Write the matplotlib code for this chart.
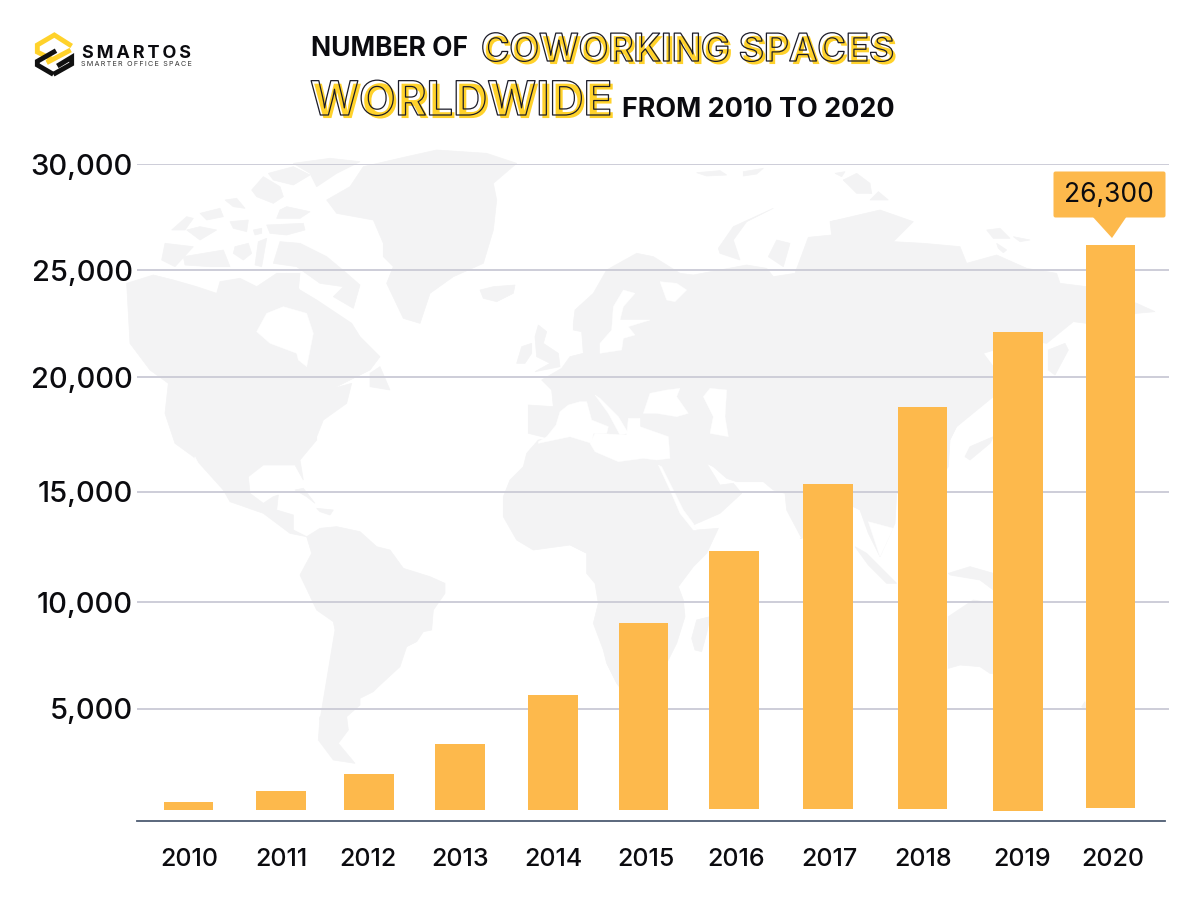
import matplotlib
matplotlib.use('Agg')
import matplotlib.pyplot as plt
import matplotlib.patheffects as pe
from matplotlib.patches import Polygon, FancyBboxPatch

plt.rcParams['font.family'] = ['Inter', 'DejaVu Sans']

# data
years = ['2010', '2011', '2012', '2013', '2014', '2015', '2016', '2017', '2018', '2019', '2020']
spaces = [846, 1362, 2126, 3511, 5738, 9043, 12335, 15384, 18905, 22333, 26300]
y_labels = ['5,000', '10,000', '15,000', '20,000', '25,000', '30,000']

# the bars float a little over the axis, gridlines and columns are not evenly spaced
bar_start = [480, 480, 480, 480, 480, 480, 520, 520, 520, 450, 590]
grid_y = [5109, 9985, 15025, 20253, 25156, 30000]
bar_x = [188.5, 281, 369, 460, 553, 643.5, 734, 828, 922.5, 1018, 1110.5]
year_x = [189, 281, 368, 460, 553, 646, 736, 829, 923, 1022, 1113]

YELLOW = '#ffd22b'
BAR = '#fdb94c'
LAND = '#f3f3f4'
INK = '#0b0b0f'


def zc(ox, oy, pts):
    # zoomed crop coordinates (3x) back to picture pixels
    return [(ox + p[0] / 3, oy + p[1] / 3) for p in pts]


C4 = (130, 150)
C5 = (480, 150)
C6 = (780, 180)
C7 = (130, 440)
C8 = (480, 430)
C9 = (780, 450)
C3 = (0, 700)

land = [
    # north america
    zc(*C4, [(-10, 400), (70, 375), (130, 390), (200, 410), (260, 430), (270, 395), (330, 385), (380, 410), (440, 370),
             (470, 370), (510, 420), (560, 450), (620, 490), (665, 520), (690, 560), (750, 620), (720, 660), (660, 690),
             (610, 715), (665, 700), (650, 760), (580, 810), (560, 860)])
    + zc(*C7, [(560, 0), (510, 60), (520, 120), (495, 75), (400, 75), (355, 110), (360, 160), (400, 190), (430, 170),
               (445, 165), (440, 210), (490, 225), (490, 270), (530, 290), (480, 280), (400, 220), (300, 185), (280, 150),
               (190, 50), (135, 10)])
    + zc(*C4, [(135, 880), (105, 790), (115, 700), (60, 660), (0, 580)]),
    zc(*C4, [(720, 670), (750, 650), (780, 720), (720, 710)]),
    # arctic islands
    zc(*C4, [(125, 240), (170, 200), (190, 205), (165, 240)]),
    zc(*C4, [(170, 240), (210, 230), (260, 240), (210, 270)]),
    zc(*C4, [(210, 190), (270, 175), (280, 200), (230, 210)]),
    zc(*C4, [(300, 215), (355, 210), (350, 245), (310, 235)]),
    zc(*C4, [(370, 240), (395, 235), (395, 250), (375, 255)]),
    zc(*C4, [(285, 150), (320, 145), (345, 175), (310, 170)]),
    zc(*C4, [(365, 120), (400, 80), (450, 110), (460, 140), (430, 160), (380, 140)]),
    zc(*C4, [(415, 70), (490, 50), (540, 75), (490, 105), (430, 90)]),
    zc(*C4, [(490, 40), (600, 25), (690, 35), (620, 70), (560, 110), (540, 70)]),
    zc(*C4, [(450, 180), (470, 170), (540, 185), (510, 205), (440, 205)]),
    zc(*C4, [(410, 225), (520, 220), (525, 240), (470, 255), (420, 250)]),
    zc(*C4, [(105, 280), (190, 290), (135, 350), (95, 330)]),
    zc(*C4, [(160, 320), (220, 310), (280, 300), (300, 350), (240, 350), (165, 345)]),
    zc(*C4, [(315, 290), (355, 280), (365, 310), (340, 330), (310, 310)]),
    zc(*C4, [(385, 275), (410, 265), (395, 350), (375, 345)]),
    zc(*C4, [(430, 340), (450, 275), (510, 280), (590, 320), (650, 370), (690, 405), (670, 475), (610, 440), (640, 410),
             (570, 400), (500, 350)]),
    zc(*C4, [(470, 370), (510, 370), (505, 420), (470, 410)]),
    # greenland, iceland
    zc(*C4, [(590, 150), (660, 110), (700, 50), (830, 20), (920, 0), (1070, 10), (1160, 40), (1090, 100), (1100, 150),
             (1090, 240), (1060, 340), (970, 380), (900, 430), (870, 520), (820, 505), (770, 400), (790, 350), (760, 320),
             (760, 280), (730, 210), (620, 190)]),
    zc(*C5, [(0, 420), (40, 410), (105, 405), (100, 430), (50, 455), (10, 445)]),
    # south america
    zc(*C7, [(530, 290), (570, 265), (620, 260), (690, 275), (740, 320), (780, 330), (820, 385), (900, 410), (945, 430),
             (945, 460), (910, 510), (905, 570), (880, 575), (860, 605), (830, 620), (810, 680), (745, 740), (730, 755),
             (690, 775), (690, 795), (650, 830)])
    + zc(*C3, [(1045, 90), (1015, 130), (1065, 190), (1000, 180), (955, 120), (960, 50)])
    + zc(*C7, [(570, 840), (615, 570), (610, 545), (560, 510), (510, 405), (545, 340)]),
    zc(*C7, [(495, 150), (520, 145), (555, 190), (530, 170)]),
    zc(*C7, [(560, 205), (610, 210), (600, 225), (570, 215)]),
    # eurasia
    zc(*C5, [(280, 520), (285, 480), (340, 430), (380, 360), (470, 310), (520, 320), (600, 370), (640, 375), (720, 360),
             (800, 345), (860, 355), (880, 380), (945, 370), (985, 262), (1055, 255), (1050, 215), (1200, 190)])
    + zc(*C6, [(150, 125), (300, 90), (400, 125), (340, 185), (430, 190), (540, 200), (560, 250), (650, 225), (740, 265),
               (830, 280), (840, 310), (920, 320), (1070, 370), (1125, 395), (1070, 400), (920, 430), (880, 425),
               (800, 490), (740, 480), (610, 520), (640, 560), (640, 650), (530, 740), (510, 780)])
    + zc(*C9, [(505, 50), (450, 130), (350, 130), (345, 220), (300, 320), (265, 250), (240, 180), (220, 170), (100, 260),
               (60, 265)])
    + zc(*C8, [(965, 325), (920, 240), (915, 190), (880, 180), (850, 155), (770, 155), (740, 145), (700, 110), (680, 100),
               (720, 165), (760, 160), (785, 190), (720, 250), (640, 285), (600, 230), (570, 180), (535, 105)])
    + zc(*C5, [(145, 850), (145, 765), (220, 770), (215, 720), (185, 690), (245, 655), (270, 620), (310, 610), (305, 545),
               (280, 540)]),
    zc(*C5, [(715, 295), (760, 230), (880, 175), (800, 215), (760, 270), (780, 330), (720, 310)]),
    zc(*C5, [(865, 320), (890, 270), (930, 280), (910, 350)]),
    zc(*C5, [(165, 560), (175, 525), (200, 545), (190, 580), (235, 610), (240, 650), (165, 665), (210, 640), (170, 620)]),
    zc(*C5, [(110, 640), (125, 590), (155, 580), (155, 610), (135, 640)]),
    zc(*C5, [(650, 68), (720, 62), (740, 75), (680, 78)]),
    zc(*C5, [(790, 65), (850, 55), (830, 72), (790, 78)]),
    zc(*C5, [(1090, 90), (1130, 70), (1170, 100), (1175, 130), (1130, 120)]),
    zc(*C5, [(1065, 70), (1095, 65), (1085, 80)]),
    zc(*C6, [(620, 150), (660, 145), (690, 175), (640, 175)]),
    zc(*C6, [(700, 170), (750, 180), (720, 185)]),
    zc(*C6, [(650, 190), (680, 210), (670, 218), (655, 205)]),
    zc(*C6, [(190, 0), (240, 0), (275, 40), (230, 40)]),
    zc(*C6, [(270, 60), (295, 35), (325, 60)]),
    zc(*C6, [(555, 830), (570, 800), (640, 770), (630, 790), (570, 840)]),
    zc(*C6, [(805, 510), (855, 490), (865, 510), (825, 585), (805, 570)]),
    # africa
    zc(*C8, [(175, 30), (140, 70), (130, 110), (90, 150), (70, 200), (70, 260), (110, 330), (160, 360), (270, 345),
             (320, 370), (320, 430), (345, 460), (355, 520), (340, 580), (370, 660), (380, 700), (410, 760), (440, 800),
             (520, 780), (590, 640), (615, 560), (610, 510), (595, 470), (640, 410), (680, 370), (715, 295), (650, 300),
             (630, 280), (580, 190), (535, 105), (490, 90), (420, 75), (340, 40), (250, 20)]),
    zc(*C8, [(650, 570), (690, 560), (680, 610), (665, 665), (645, 660), (635, 625)]),
    # asia pacific
    zc(*C9, [(225, 290), (260, 310), (330, 380), (350, 400), (320, 400), (265, 345)]),
    zc(*C9, [(505, 370), (570, 350), (640, 370), (640, 420), (600, 390), (510, 375)]),
    zc(*C9, [(505, 500), (580, 450), (700, 470), (780, 600), (700, 680), (630, 670), (600, 650), (540, 645), (505, 655)]),
    zc(*C9, [(905, 770), (915, 755), (918, 780)]),
]

water = [
    zc(*C4, [(380, 545), (410, 490), (460, 470), (530, 490), (550, 550), (540, 600), (530, 650), (505, 630), (500, 610),
             (420, 580)]),
    zc(*C5, [(360, 580), (395, 540), (400, 470), (430, 420), (465, 430), (430, 470), (420, 510), (510, 510), (445, 530),
             (465, 555), (430, 565), (425, 600), (360, 610)]),
    zc(*C5, [(540, 395), (590, 400), (620, 420), (585, 455), (560, 450)]),
    zc(*C5, [(490, 790), (510, 730), (560, 720), (600, 715), (590, 740), (625, 790), (590, 800), (530, 790)]),
    zc(*C5, [(670, 740), (690, 715), (740, 720), (735, 800), (745, 860), (690, 850), (700, 800)]),
    zc(*C5, [(175, 875), (200, 860), (228, 825), (240, 785), (265, 765), (300, 755), (320, 755), (335, 810), (385, 830),
             (380, 850), (340, 850), (335, 880), (270, 860), (175, 880)]),
    zc(*C5, [(345, 735), (360, 745), (415, 800), (445, 850), (420, 855), (385, 790)]),
    zc(*C8, [(330, 40), (345, 10), (440, 15), (445, -35), (480, -35), (480, -10), (565, 20), (570, 85), (530, 90), (490, 85),
             (415, 95), (345, 65)]),
    zc(*C8, [(535, 105), (545, 110), (585, 190), (610, 240), (640, 280), (650, 300), (640, 300), (600, 250), (570, 180)]),
    zc(*C7, [(195, 50), (235, 130), (210, 110), (185, 80)]),
    zc(*C9, [(265, 215), (340, 235), (300, 320)]),
]


class OutlineOnly(pe.AbstractPathEffect):
    # stroke the glyphs and leave the inside empty
    def __init__(self, color, width):
        super().__init__()
        self.color = color
        self.width = width

    def draw_path(self, renderer, gc, tpath, affine, rgbFace=None):
        gc0 = renderer.new_gc()
        gc0.copy_properties(gc)
        gc0.set_foreground(self.color)
        gc0.set_linewidth(self.width)
        renderer.draw_path(gc0, tpath, affine + self._offset_transform(renderer), None)
        gc0.restore()


def pixel_axes(fig, z):
    a = fig.add_axes([0, 0, 1, 1], zorder=z)
    a.set_xlim(0, 1200)
    a.set_ylim(900, 0)
    a.axis('off')
    a.patch.set_alpha(0)
    return a


fig = plt.figure(figsize=(12, 9), dpi=100, facecolor='white')

# world map behind everything
bg = pixel_axes(fig, 0)
for shape in land:
    bg.add_patch(Polygon(shape, closed=True, fc=LAND, ec=LAND, lw=0.5))
for shape in water:
    bg.add_patch(Polygon(shape, closed=True, fc='white', ec='white', lw=0.3))

# main chart
ax = fig.add_axes([137 / 1200, 1 - 820.5 / 900, (1169 - 137) / 1200, (820.5 - 164.3) / 900], zorder=1)
ax.patch.set_alpha(0)
ax.set_xlim(137, 1169)
ax.set_ylim(0, 30000)
heights = [v - s for v, s in zip(spaces, bar_start)]
ax.bar(bar_x, heights, width=49.5, bottom=bar_start, color=BAR, zorder=3)
ax.set_yticks(grid_y, y_labels)
ax.set_xticks(year_x, years)
ax.tick_params(axis='y', length=0, pad=3, labelsize=21, labelcolor=INK)
ax.tick_params(axis='x', length=0, pad=19.5, labelsize=18, labelcolor=INK)
for lab in ax.get_xticklabels() + ax.get_yticklabels():
    lab.set_fontweight(500)
ax.grid(axis='y', color='#cdcdd8', lw=1.4, zorder=1)
ax.set_axisbelow(True)
for s in ['top', 'left', 'right']:
    ax.spines[s].set_visible(False)
ax.spines['bottom'].set_color('#4d5c72')
ax.spines['bottom'].set_linewidth(1.3)
ax.spines['bottom'].set_bounds(137, 1165)

# title, logo, callout in picture pixels
top = pixel_axes(fig, 2)
top.text(311, 56, 'NUMBER OF', fontsize=19, fontweight='bold', color=INK, va='baseline')
top.text(622, 117, 'FROM 2010 TO 2020', fontsize=19.4, fontweight='bold', color=INK, va='baseline')

for txt, x, y, size in [('COWORKING SPACES', 481, 61, 27.6), ('WORLDWIDE', 310, 115, 34)]:
    t = top.text(x, y, txt, fontsize=size, fontweight='bold', color=YELLOW, va='baseline')
    # one text: yellow copy pushed down right, thin dark outline on top
    t.set_path_effects([
        pe.SimplePatchShadow(offset=(2.2, -2.2), shadow_rgbFace=YELLOW, alpha=1, rho=1),
        OutlineOnly('#1c1c28', 0.9),
    ])

# logo
for pts, c in [
    ([(155, 78), (103, 45), (52, 75), (52, 96), (100, 120)], YELLOW),
    ([(80, 128), (152, 90)], YELLOW),
    ([(108, 92), (52, 124), (52, 135), (100, 163)], '#111111'),
    ([(100, 163), (155, 132), (155, 112), (112, 138)], '#111111'),
]:
    p = zc(20, 20, pts)
    top.plot([q[0] for q in p], [q[1] for q in p], color=c, lw=3.5, solid_joinstyle='miter', solid_capstyle='butt')
top.text(136.5, 57.5, '\u2009'.join('SMARTOS'), fontsize=13, fontweight='bold', color=INK, ha='center', va='baseline')
top.text(136.5, 66.5, '\u2009'.join('SMARTER OFFICE SPACE'), fontsize=5.2, color='#333333', ha='center', va='baseline')

# callout over the last bar
top.add_patch(FancyBboxPatch((1055, 173), 109, 43, boxstyle='round,pad=1.5,rounding_size=2', fc=BAR, ec='none'))
top.add_patch(Polygon([(1092, 216), (1127, 216), (1112, 238)], closed=True, fc=BAR, ec='none'))
top.text(1109, 195, f'{spaces[-1]:,}', fontsize=19, color=INK, ha='center', va='center')

fig.savefig('out.png', dpi=100)
